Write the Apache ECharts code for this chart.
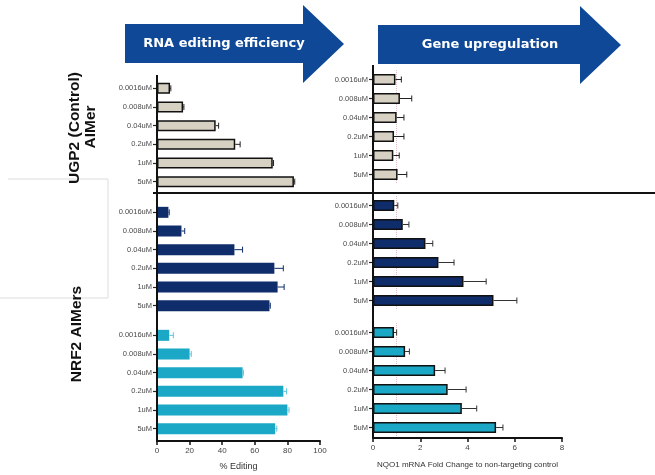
<!DOCTYPE html>
<html>
<head>
<meta charset="utf-8">
<style>
  html, body { margin: 0; padding: 0; background: #fff; }
  #chart { width: 655px; height: 475px; }
</style>
<script src="https://cdn.jsdelivr.net/npm/echarts@6/dist/echarts.min.js"></script>
</head>
<body>
<div id="chart"></div>
<script>
// concentrations, top to bottom
const categories = ['0.0016uM', '0.008uM', '0.04uM', '0.2uM', '1uM', '5uM']

// % editing
const editUgp2 = [8, 16, 36, 48, 71, 84]
const editUgp2Err = [0.5, 0.5, 1.8, 3, 0.5, 0.5]
const editNrf2Dark = [7, 15, 47.5, 72, 74, 69]
const editNrf2DarkErr = [0.5, 2, 5, 5.5, 4, 0.5]
const editNrf2Cyan = [7.5, 20, 52.5, 77.5, 80, 72.5]
const editNrf2CyanErr = [2.5, 1, 0.5, 2, 1, 1]

// NQO1 fold change
const foldUgp2 = [0.95, 1.14, 1.0, 0.89, 0.86, 1.04]
const foldUgp2Err = [0.25, 0.5, 0.31, 0.42, 0.25, 0.39]
const foldNrf2Dark = [0.9, 1.26, 2.22, 2.77, 3.83, 5.1]
const foldNrf2DarkErr = [0.15, 0.26, 0.31, 0.66, 0.96, 0.99]
const foldNrf2Cyan = [0.89, 1.36, 2.63, 3.16, 3.76, 5.21]
const foldNrf2CyanErr = [0.11, 0.18, 0.42, 0.78, 0.63, 0.29]

const FONT = '"Liberation Sans", Arial, sans-serif'
const BEIGE = '#d7d1c3'
const NAVY = '#0f2d6b'
const CYAN = '#1aa8c6'
const ARROW = '#0f4896'

const chart = echarts.init(document.getElementById('chart'))

// grids: 0-2 left column (editing), 3-5 right column (fold change)
const grids = [
  { left: 157, right: 335, top: 79, height: 112 },
  { left: 157, right: 335, top: 203, height: 112 },
  { left: 157, right: 335, top: 326, height: 112 },
  { left: 373, right: 93, top: 70, height: 114 },
  { left: 373, right: 93, top: 196, height: 114 },
  { left: 373, right: 93, top: 323, height: 114 }
]

function yCat(gi) {
  return {
    type: 'category',
    gridIndex: gi,
    data: categories,
    inverse: true,
    axisLine: { show: false },
    axisTick: { show: true, alignWithLabel: true, length: 4, lineStyle: { color: '#222', width: 1.2 } },
    axisLabel: { fontSize: 7.5, color: '#4a4a4a', margin: 5, fontFamily: FONT }
  }
}

function xVal(gi, max, interval, show, extra) {
  return Object.assign({
    type: 'value',
    gridIndex: gi,
    min: 0,
    max: max,
    interval: interval,
    show: show,
    splitLine: { show: false },
    axisLine: { show: true, lineStyle: { color: '#111', width: 2 } },
    axisTick: { show: true, length: 4, lineStyle: { color: '#111', width: 1.5 } },
    axisLabel: { fontSize: 8, color: '#444', margin: 6, fontFamily: FONT }
  }, extra || {})
}

function errRender(color) {
  return function (params, api) {
    const v = api.value(0)
    const c = api.value(1)
    const e = api.value(2)
    const p0 = api.coord([v, c])
    const p1 = api.coord([v + e, c])
    const h = 3
    return {
      type: 'group',
      children: [
        { type: 'line', shape: { x1: p0[0], y1: p0[1], x2: p1[0], y2: p1[1] }, style: { stroke: color, lineWidth: 1 } },
        { type: 'line', shape: { x1: p1[0], y1: p1[1] - h, x2: p1[0], y2: p1[1] + h }, style: { stroke: color, lineWidth: 1 } }
      ]
    }
  }
}

const oneLine = {
  silent: true,
  symbol: 'none',
  z: 1,
  label: { show: false },
  lineStyle: { type: 'dotted', color: '#e3b9c8', width: 1 },
  data: [{ xAxis: 1 }]
}

function barSeries(gi, values, color, border, withMark) {
  const s = {
    type: 'bar',
    xAxisIndex: gi,
    yAxisIndex: gi,
    data: values,
    barWidth: 11,
    z: 3,
    itemStyle: { color: color, borderColor: border ? '#111' : color, borderWidth: border ? 1.5 : 0 }
  }
  if (withMark) s.markLine = oneLine
  return s
}

function errSeries(gi, values, errs, color) {
  return {
    type: 'custom',
    xAxisIndex: gi,
    yAxisIndex: gi,
    renderItem: errRender(color),
    encode: { x: 0, y: 1 },
    data: values.map((v, i) => [v, i, errs[i]]),
    z: 4
  }
}

const arrowLeft = [[125, 24], [303, 24], [303, 5], [344, 44], [303, 83], [303, 63], [125, 63]]
const arrowRight = [[378, 25], [580, 25], [580, 6], [621, 45], [580, 84], [580, 64], [378, 64]]

chart.setOption({
  animation: false,
  grid: grids,
  xAxis: [
    xVal(0, 100, 20, false),
    xVal(1, 100, 20, false),
    xVal(2, 100, 20, true, {
      offset: 3,
      name: '% Editing',
      nameLocation: 'middle',
      nameGap: 21,
      nameTextStyle: { fontSize: 9, color: '#333', fontFamily: FONT }
    }),
    xVal(3, 8, 2, false),
    xVal(4, 8, 2, false),
    xVal(5, 8, 2, true, {
      offset: 1,
      name: 'NQO1 mRNA Fold Change to non-targeting control',
      nameLocation: 'middle',
      nameGap: 23,
      nameTextStyle: { fontSize: 8, color: '#333', fontFamily: FONT }
    })
  ],
  yAxis: [yCat(0), yCat(1), yCat(2), yCat(3), yCat(4), yCat(5)],
  series: [
    barSeries(0, editUgp2, BEIGE, true),
    errSeries(0, editUgp2, editUgp2Err, '#222'),
    barSeries(1, editNrf2Dark, NAVY, false),
    errSeries(1, editNrf2Dark, editNrf2DarkErr, NAVY),
    barSeries(2, editNrf2Cyan, CYAN, false),
    errSeries(2, editNrf2Cyan, editNrf2CyanErr, '#5cc3d8'),
    barSeries(3, foldUgp2, BEIGE, true, true),
    errSeries(3, foldUgp2, foldUgp2Err, '#222'),
    barSeries(4, foldNrf2Dark, NAVY, true, true),
    errSeries(4, foldNrf2Dark, foldNrf2DarkErr, '#333'),
    barSeries(5, foldNrf2Cyan, CYAN, true, true),
    errSeries(5, foldNrf2Cyan, foldNrf2CyanErr, '#333')
  ],
  graphic: [
    // faint box on the left
    { type: 'polyline', shape: { points: [[8, 179], [108, 179], [108, 298], [0, 298]] }, style: { stroke: '#dcdcdc', lineWidth: 1, fill: null }, z: 0 },
    // arrows
    { type: 'polygon', shape: { points: arrowLeft }, style: { fill: ARROW } },
    { type: 'text', x: 224, y: 44, style: { text: 'RNA editing efficiency', font: 'bold 13px "DejaVu Sans", Verdana, sans-serif', fill: '#fff', align: 'center', verticalAlign: 'middle' } },
    { type: 'polygon', shape: { points: arrowRight }, style: { fill: ARROW } },
    { type: 'text', x: 490, y: 45, style: { text: 'Gene upregulation', font: 'bold 13px "DejaVu Sans", Verdana, sans-serif', fill: '#fff', align: 'center', verticalAlign: 'middle' } },
    // row labels
    { type: 'text', x: 75, y: 128, rotation: Math.PI / 2, style: { text: 'UGP2 (Control)', font: 'bold 15.5px "Liberation Sans", Arial, sans-serif', fill: '#111', align: 'center', verticalAlign: 'middle' } },
    { type: 'text', x: 91, y: 127, rotation: Math.PI / 2, style: { text: 'AIMer', font: 'bold 15.5px "Liberation Sans", Arial, sans-serif', fill: '#111', align: 'center', verticalAlign: 'middle' } },
    { type: 'text', x: 77, y: 334, rotation: Math.PI / 2, style: { text: 'NRF2 AIMers', font: 'bold 15.5px "Liberation Sans", Arial, sans-serif', fill: '#111', align: 'center', verticalAlign: 'middle' } },
    // axis spines and separator
    { type: 'line', shape: { x1: 157, y1: 75, x2: 157, y2: 442 }, style: { stroke: '#111', lineWidth: 2 }, z: 10 },
    { type: 'line', shape: { x1: 373, y1: 65, x2: 373, y2: 438 }, style: { stroke: '#111', lineWidth: 2 }, z: 10 },
    { type: 'line', shape: { x1: 153, y1: 193, x2: 655, y2: 193 }, style: { stroke: '#111', lineWidth: 2 }, z: 10 }
  ]
})
</script>
</body>
</html>
